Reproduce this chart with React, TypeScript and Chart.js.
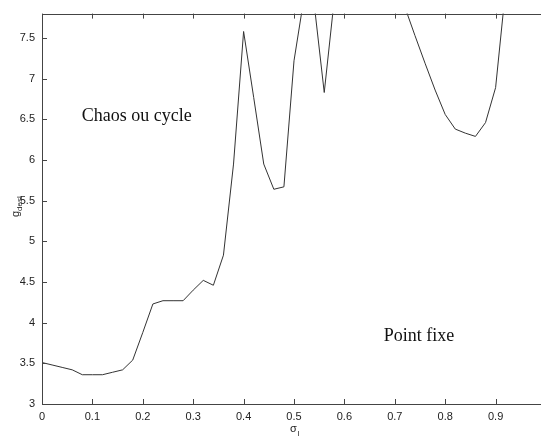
import React, { useEffect, useRef } from "react";
import { Chart, registerables } from "chart.js";

Chart.register(...registerables);

// sigma_l values (x) and g_desl values (y); values above the top of the axis are clipped off
const sigmaValues = [
  0, 0.02, 0.04, 0.06, 0.08, 0.1, 0.12, 0.14, 0.16, 0.18,
  0.2, 0.22, 0.24, 0.26, 0.28, 0.3, 0.32, 0.34, 0.36, 0.38,
  0.4, 0.42, 0.44, 0.46, 0.48, 0.5, 0.52, 0.54, 0.56, 0.58,
  0.6, 0.62, 0.64, 0.66, 0.68, 0.7, 0.72, 0.74, 0.76, 0.78,
  0.8, 0.82, 0.84, 0.86, 0.88, 0.9, 0.92, 0.94, 0.96, 0.98, 1.0,
];
const gValues = [
  3.51, 3.48, 3.45, 3.42, 3.36, 3.36, 3.36, 3.39, 3.42, 3.54,
  3.88, 4.23, 4.27, 4.27, 4.27, 4.4, 4.52, 4.46, 4.83, 5.95,
  7.58, 6.77, 5.95, 5.64, 5.67, 7.22, 8.0, 7.92, 6.83, 7.98,
  8.3, 8.6, 8.8, 8.7, 8.4, 8.1, 7.88, 7.53, 7.19, 6.86,
  6.56, 6.38, 6.33, 6.29, 6.46, 6.89, 8.11, 8.5, 8.8, 9.0, 9.2,
];

const xTickStep = 0.1;
const yTickStep = 0.5;
const xRange = [0, 1];
const yRange = [3, 7.8];
const hiddenXTickLabels = [1];

const annotations = [
  { text: "Chaos ou cycle", x: 0.079, y: 6.48 },
  { text: "Point fixe", x: 0.678, y: 3.77 },
];

const fmt = (v: number) => String(Number(Number(v).toFixed(2)));

const framePlugin = {
  id: "matlabFrame",
  afterDraw(chart: any) {
    const { ctx, chartArea: a, scales } = chart;
    const xs = scales.x;
    const ys = scales.y;
    ctx.save();
    ctx.strokeStyle = "#444";
    ctx.lineWidth = 1;
    ctx.strokeRect(Math.round(a.left) + 0.5, Math.round(a.top) + 0.5, Math.round(a.right - a.left), Math.round(a.bottom - a.top));
    ctx.beginPath();
    const tl = 5;
    xs.ticks.forEach((t: any) => {
      const px = Math.round(xs.getPixelForValue(t.value)) + 0.5;
      ctx.moveTo(px, a.bottom);
      ctx.lineTo(px, a.bottom - tl);
      ctx.moveTo(px, a.top);
      ctx.lineTo(px, a.top + tl);
    });
    ys.ticks.forEach((t: any) => {
      const py = Math.round(ys.getPixelForValue(t.value)) + 0.5;
      ctx.moveTo(a.left, py);
      ctx.lineTo(a.left + tl, py);
      ctx.moveTo(a.right, py);
      ctx.lineTo(a.right - tl, py);
    });
    ctx.stroke();

    // annotations
    ctx.fillStyle = "#111";
    ctx.font = '18px "Liberation Serif"';
    ctx.textAlign = "left";
    ctx.textBaseline = "alphabetic";
    annotations.forEach((an) => {
      ctx.fillText(an.text, xs.getPixelForValue(an.x), ys.getPixelForValue(an.y));
    });

    // x title: sigma_l
    ctx.fillStyle = "#222";
    const cx = xs.getPixelForValue(0.5);
    ctx.font = '11px "Liberation Sans"';
    ctx.fillText("σ", cx - 4, 432);
    ctx.font = '8px "Liberation Sans"';
    ctx.fillText("l", cx + 3.5, 436);

    // y title: g_des (rotated)
    ctx.translate(19, 217);
    ctx.rotate(-Math.PI / 2);
    ctx.font = '11px "Liberation Sans"';
    ctx.fillText("g", 0, 0);
    const gw = ctx.measureText("g").width;
    ctx.font = '8px "Liberation Sans"';
    ctx.fillText("desl", gw, 3);
    ctx.restore();
  },
};

export default function App() {
  const ref = useRef<HTMLCanvasElement>(null);
  useEffect(() => {
    if (!ref.current) return;
    const data = sigmaValues.map((s, i) => ({ x: s, y: gValues[i] }));
    const chart = new Chart(ref.current, {
      type: "line",
      data: {
        datasets: [
          {
            data,
            borderColor: "#333",
            borderWidth: 1,
            pointRadius: 0,
            tension: 0,
            fill: false,
          },
        ],
      },
      options: {
        animation: false,
        responsive: false,
        devicePixelRatio: 1,
        layout: { padding: { top: 7, right: 14, left: 0, bottom: 0 } },
        plugins: { legend: { display: false }, tooltip: { enabled: false } },
        scales: {
          x: {
            type: "linear",
            min: xRange[0],
            max: xRange[1],
            grid: { display: false, drawTicks: false },
            border: { display: false },
            ticks: {
              stepSize: xTickStep,
              padding: 6,
              color: "#222",
              font: { family: "Liberation Sans", size: 11 },
              maxRotation: 0,
              autoSkip: false,
              callback: (v: any) => (hiddenXTickLabels.includes(Number(v)) ? "" : fmt(v)),
            },
            afterFit(scale: any) {
              scale.height = 33;
            },
          },
          y: {
            type: "linear",
            min: yRange[0],
            max: yRange[1],
            grid: { display: false, drawTicks: false },
            border: { display: false },
            ticks: {
              stepSize: yTickStep,
              includeBounds: false,
              padding: 7,
              color: "#222",
              font: { family: "Liberation Sans", size: 11 },
              autoSkip: false,
              callback: (v: any) => fmt(v),
            },
            afterFit(scale: any) {
              scale.width = 42;
            },
          },
        },
      },
      plugins: [framePlugin],
    });
    return () => chart.destroy();
  }, []);
  return (
    <div
      style={{
        position: "fixed",
        left: 0,
        top: 0,
        width: 541,
        height: 437,
        overflow: "hidden",
        background: "#fff",
      }}
    >
      <canvas ref={ref} width={560} height={437} style={{ width: 560, height: 437, display: "block" }} />
    </div>
  );
}
